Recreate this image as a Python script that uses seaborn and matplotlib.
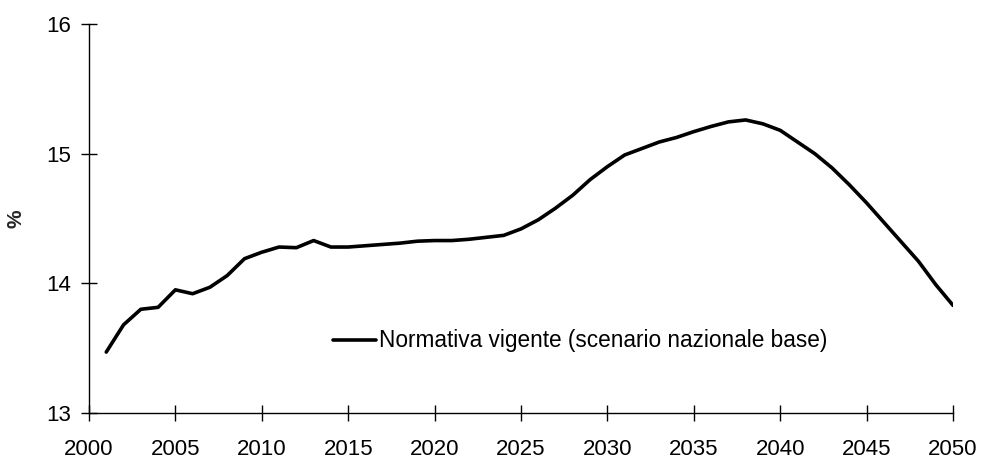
import numpy as np
import pandas as pd
import seaborn as sns
import matplotlib
matplotlib.use("Agg")
import matplotlib.pyplot as plt

# data
anni = list(range(2001, 2051))
valori = [13.47, 13.68, 13.80, 13.815, 13.95, 13.92, 13.97, 14.06, 14.19, 14.24,
          14.28, 14.275, 14.33, 14.28, 14.28, 14.29, 14.30, 14.31, 14.325, 14.33,
          14.33, 14.34, 14.355, 14.37, 14.42, 14.49, 14.58, 14.68, 14.80, 14.90,
          14.99, 15.04, 15.09, 15.125, 15.17, 15.21, 15.245, 15.26, 15.23, 15.18,
          15.09, 15.00, 14.89, 14.76, 14.62, 14.47, 14.32, 14.17, 13.99, 13.83]
etichetta = "Normativa vigente (scenario nazionale base)"
x_ticks = list(range(2000, 2051, 5))
y_ticks = [13, 14, 15, 16]

df = pd.DataFrame({"anno": anni, "valore": valori, "serie": etichetta})

sns.set_style("white")
plt.rcParams["font.family"] = ["Liberation Sans", "DejaVu Sans"]
plt.rcParams["text.color"] = "black"

fig = plt.figure(figsize=(9.82, 4.59), dpi=100)
ax = fig.add_axes([0.0906, 0.1002, 0.8799, 0.8475])

sns.lineplot(data=df, x="anno", y="valore", hue="serie", palette=["black"],
             linewidth=2.6, ax=ax)

ax.set_xlim(2000, 2050)
ax.set_ylim(13, 16)
ax.set_xticks(x_ticks)
ax.set_yticks(y_ticks)
ax.set_xlabel("")
ax.set_ylabel("%", fontsize=15, fontweight="bold")
ax.yaxis.set_label_coords(-0.073, 0.5)

for s in ["top", "right"]:
    ax.spines[s].set_visible(False)
for s in ["left", "bottom"]:
    ax.spines[s].set_color("black")
    ax.spines[s].set_linewidth(1.0)

ax.tick_params(axis="both", direction="inout", length=11, width=1.0,
               colors="black", labelsize=16, bottom=True, left=True)
ax.tick_params(axis="x", pad=13)
ax.tick_params(axis="y", pad=7)

leg = ax.legend(loc="upper left", bbox_to_anchor=(0.272, 0.238), frameon=False,
                fontsize=16.3, handlelength=1.9, handletextpad=0.15,
                borderaxespad=0)
for t in leg.get_texts():
    t.set_color("black")

fig.savefig("out.png", dpi=100)
